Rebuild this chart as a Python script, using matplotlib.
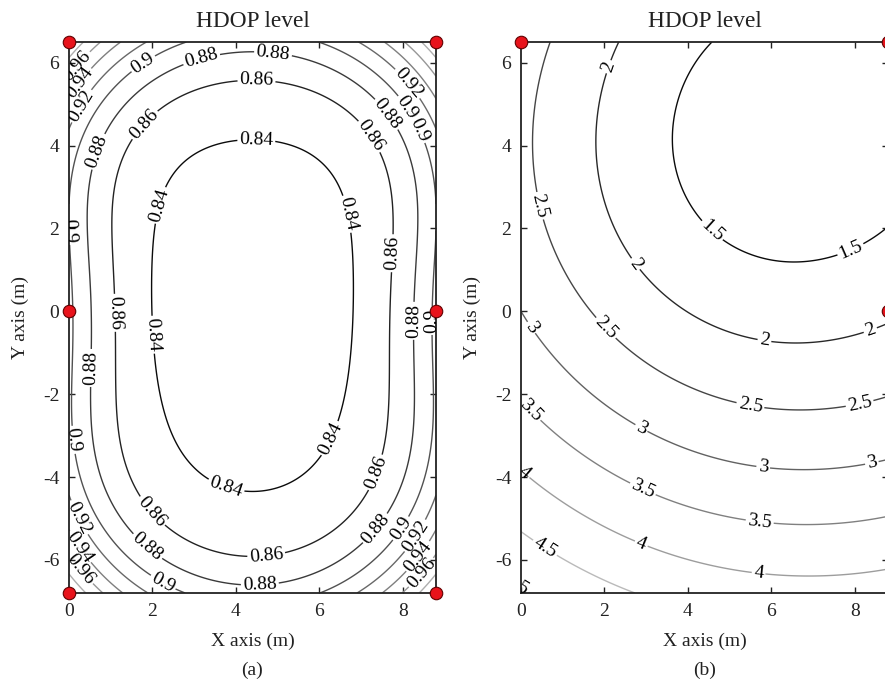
import numpy as np
import matplotlib
matplotlib.use("Agg")
import matplotlib.pyplot as plt

plt.rcParams['font.family'] = ['Liberation Serif', 'DejaVu Serif']
plt.rcParams['font.size'] = 14
plt.rcParams['axes.unicode_minus'] = False

# room size (m)
room_x = [0, 8.8]
room_y = [-6.8, 6.5]

# anchor positions, panel (a): six anchors, panel (b): three anchors
anc_a_x = [0, 0, 0, 8.8, 8.8, 8.8]
anc_a_y = [6.5, 0, -6.8, 6.5, 0, -6.8]
anc_b_x = [0, 8.8, 8.8]
anc_b_y = [6.5, 6.5, 0]

# anchor height above the tag (m) and range-noise exponent
height_a = 0.7
expo_a = 0.0
height_b = 0.7
expo_b = 0.75
hdop_b_origin = 3.0   # value read at (0, 0) in panel (b)

levels_a = [0.84, 0.86, 0.88, 0.9, 0.92, 0.94, 0.96, 0.98, 1.0, 1.02, 1.04]
levels_b = [1.5, 2, 2.5, 3, 3.5, 4, 4.5, 5]

# label spots
lab_a = [(0.26, 5.87), (0.31, 5.46), (0.34, 4.93), (1.77, 5.99), (3.14, 6.23), (4.9, 6.3),
         (4.5, 5.78), (1.77, 4.54), (0.79, 3.82), (4.5, 4.47), (1.99, 2.61), (6.79, 2.37),
         (0.14, 2.16), (8.22, 5.58), (8.25, 5.03), (8.3, 4.33), (7.53, 4.69), (7.15, 4.18),
         (7.78, 1.4), (0.98, -0.04), (1.94, -0.57), (8.25, -0.23), (8.66, -0.23),
         (0.62, -1.37), (0.14, -3.1), (6.33, -3.1), (7.38, -3.9), (3.7, -4.43), (1.94, -4.87),
         (0.22, -4.99), (0.26, -5.69), (0.26, -6.24), (1.87, -5.69), (4.74, -6.0),
         (2.18, -6.68), (4.58, -6.68), (7.3, -5.2), (7.9, -5.2), (8.2, -5.35), (8.26, -5.83),
         (8.37, -6.24)]
lab_b = [(1.85, 5.99), (0.34, 2.52), (5.18, 2.61), (7.94, 1.4), (3.09, 1.4), (0.34, -0.33),
         (5.85, -0.62), (1.65, -0.77), (8.54, -0.93), (0.29, -2.33), (5.49, -2.33),
         (2.93, -2.74), (8.25, -2.86), (0.14, -3.83), (5.78, -4.0), (8.45, -3.85),
         (2.93, -4.27), (5.68, -5.45), (0.65, -5.59), (2.9, -5.57), (0.17, -6.49),
         (5.66, -6.65)]


def hdop(X, Y, axs, ays, h, p):
    # 3D ranging geometry, x/y part of the covariance
    J = np.zeros(X.shape + (3, 3))
    for ax_, ay_ in zip(axs, ays):
        dx = X - ax_
        dy = Y - ay_
        R = np.sqrt(dx**2 + dy**2 + h**2)
        g = [dx / R, dy / R, h / R]
        w = 1.0 / R**p
        for i in range(3):
            for j in range(3):
                J[..., i, j] += w * g[i] * g[j]
    C = np.linalg.inv(J)
    return np.sqrt(C[..., 0, 0] + C[..., 1, 1])


x = np.linspace(room_x[0], room_x[1], 265)
y = np.linspace(room_y[0], room_y[1], 400)
X, Y = np.meshgrid(x, y)

Za = hdop(X, Y, anc_a_x, anc_a_y, height_a, expo_a)
Zb = hdop(X, Y, anc_b_x, anc_b_y, height_b, expo_b)
z0 = hdop(np.array([0.0]), np.array([0.0]), anc_b_x, anc_b_y, height_b, expo_b)[0]
Zb = Zb / z0 * hdop_b_origin

fig = plt.figure(figsize=(8.85, 6.79), dpi=100)
ax1 = fig.add_axes([69 / 885, 86 / 679, 367 / 885, 551 / 679])
ax2 = fig.add_axes([521 / 885, 86 / 679, 367 / 885, 551 / 679])

panels = [(ax1, Za, levels_a, 0.83, 1.05, lab_a, anc_a_x, anc_a_y, '(a)'),
          (ax2, Zb, levels_b, 1.3, 5.7, lab_b, anc_b_x, anc_b_y, '(b)')]

for ax, Z, lev, lo, hi, labs, ancx, ancy, tag in panels:
    cs = ax.contour(X, Y, Z, levels=lev, cmap='gray', vmin=lo, vmax=hi, linewidths=1.0)
    ax.clabel(cs, manual=labs, fmt='%g', fontsize=14, colors='k', inline=True, inline_spacing=2)
    ax.plot(ancx, ancy, 'o', ms=9, mfc='#e8131b', mec='#600000', mew=0.8,
            clip_on=False, zorder=10)
    ax.set_xlim(room_x)
    ax.set_ylim(room_y)
    ax.set_xticks([0, 2, 4, 6, 8])
    ax.set_yticks([-6, -4, -2, 0, 2, 4, 6])
    ax.tick_params(direction='in', top=True, right=True, length=4, width=1, pad=7,
                   colors='#222222', labelcolor='#222222')
    for s in ax.spines.values():
        s.set_linewidth(1.3)
        s.set_color('#222222')
    ax.set_title('HDOP level', pad=11, color='#222222')
    ax.set_xlabel('X axis (m)', color='#222222')
    ax.xaxis.set_label_coords(0.5, -0.072)
    ax.set_ylabel('Y axis (m)', color='#222222')
    ax.yaxis.set_label_coords(-0.109, 0.5)
    ax.text(0.5, -0.125, tag, transform=ax.transAxes, ha='center', va='top', color='#222222')

fig.savefig("out.png", dpi=100)
